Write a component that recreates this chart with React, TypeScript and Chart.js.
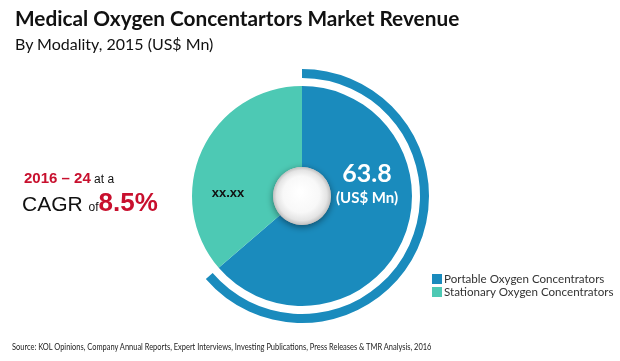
import React, { useEffect, useRef } from "react";
import { Chart, registerables } from "chart.js";

Chart.register(...registerables);

const categories = ["Portable Oxygen Concentrators", "Stationary Oxygen Concentrators"];
const values = [63.8, 36.4];
const valueLabels = ["63.8", "xx.xx"];
const unitLabel = "(US$ Mn)";
const colors = ["#1a8bbd", "#4dc9b4"];

const FONT = "Lato, 'Open Sans', sans-serif";
const ARIAL = "Arial, 'Liberation Sans', sans-serif";

const hubPlugin = {
  id: "hub",
  afterDatasetsDraw(chart: any) {
    const { ctx } = chart;
    const meta = chart.getDatasetMeta(2);
    const arc = meta.data[0];
    if (!arc) return;
    const { x, y, innerRadius } = arc.getProps(["x", "y", "innerRadius"], true);
    const r = innerRadius;
    ctx.save();
    ctx.shadowColor = "rgba(0,0,0,0.45)";
    ctx.shadowBlur = 7;
    ctx.shadowOffsetY = 2;
    const g = ctx.createRadialGradient(x - 2, y - 4, 2, x, y, r);
    g.addColorStop(0, "#ffffff");
    g.addColorStop(0.6, "#f8f8f8");
    g.addColorStop(0.86, "#e4e4e4");
    g.addColorStop(1, "#c0c0c0");
    ctx.fillStyle = g;
    ctx.beginPath();
    ctx.arc(x, y, r, 0, Math.PI * 2);
    ctx.fill();
    ctx.restore();

    ctx.save();
    ctx.textAlign = "center";
    ctx.textBaseline = "middle";
    ctx.fillStyle = "#ffffff";
    ctx.font = `bold 25px ${FONT}`;
    ctx.fillText(valueLabels[0], x + 65, y - 22);
    ctx.font = `bold 15px ${FONT}`;
    ctx.fillText(unitLabel, x + 65, y + 2);
    ctx.fillStyle = "#111111";
    ctx.font = `bold 13px ${ARIAL}`;
    ctx.fillText(valueLabels[1], x - 74, y - 3);
    ctx.restore();
  },
};

export default function App() {
  const ref = useRef<HTMLCanvasElement>(null);
  useEffect(() => {
    if (!ref.current) return;
    const chart = new Chart(ref.current, {
      type: "doughnut",
      data: {
        labels: categories,
        datasets: [
          {
            data: values,
            backgroundColor: [colors[0], "rgba(0,0,0,0)"],
            borderWidth: 0,
            weight: 9,
          },
          {
            data: values,
            backgroundColor: ["rgba(0,0,0,0)", "rgba(0,0,0,0)"],
            borderWidth: 0,
            weight: 8,
          },
          {
            data: values,
            backgroundColor: colors,
            borderWidth: 0,
            weight: 81,
          },
        ],
      },
      options: {
        responsive: false,
        animation: false,
        radius: 127,
        cutout: "22.8%",
        layout: { padding: { left: 0, right: 16, top: 31, bottom: 0 } },
        plugins: {
          legend: { display: false },
          tooltip: { enabled: false },
        },
      } as any,
      plugins: [hubPlugin],
    });
    return () => chart.destroy();
  }, []);

  return (
    <div style={{ position: "absolute", left: 0, top: 0, width: 620, height: 361, background: "#fff", overflow: "hidden" }}>
      <canvas ref={ref} width={620} height={361} style={{ position: "absolute", left: 0, top: 0 }} />
      <div style={{ position: "absolute", left: 15, top: 5, fontFamily: FONT, fontWeight: 700, fontSize: 20.8, color: "#111", whiteSpace: "nowrap" }}>
        Medical Oxygen Concentartors Market Revenue
      </div>
      <div style={{ position: "absolute", left: 15, top: 34, fontFamily: FONT, fontSize: 16, color: "#111", whiteSpace: "nowrap" }}>
        By Modality, 2015 (US$ Mn)
      </div>
      <div style={{ position: "absolute", left: 24, top: 170, fontFamily: ARIAL, whiteSpace: "nowrap", lineHeight: 1 }}>
        <span style={{ color: "#c8102e", fontWeight: 700, fontSize: 15 }}>2016 – 24</span>
        <span style={{ color: "#111", fontSize: 12 }}> at a</span>
      </div>
      <div style={{ position: "absolute", left: 22, top: 189, fontFamily: ARIAL, whiteSpace: "nowrap", lineHeight: 1 }}>
        <span style={{ color: "#111", fontSize: 21 }}>CAGR </span>
        <span style={{ color: "#111", fontSize: 12 }}>of</span>
        <span style={{ color: "#c8102e", fontWeight: 700, fontSize: 26 }}>8.5%</span>
      </div>
      {categories.map((c, i) => (
        <div key={c} style={{ position: "absolute", left: 432, top: 273 + i * 13, display: "flex", alignItems: "center", fontFamily: FONT, fontSize: 11.6, color: "#333", whiteSpace: "nowrap", height: 11 }}>
          <span style={{ display: "inline-block", width: 10, height: 10, background: colors[i], marginRight: 2 }} />
          <span>{c}</span>
        </div>
      ))}
      <div style={{ position: "absolute", left: 12, top: 341, fontFamily: FONT, fontSize: 9.5, color: "#222", whiteSpace: "nowrap", transform: "scaleX(0.785)", transformOrigin: "left top" }}>
        Source: KOL Opinions, Company Annual Reports, Expert Interviews, Investing Publications, Press Releases &amp; TMR Analysis, 2016
      </div>
    </div>
  );
}
